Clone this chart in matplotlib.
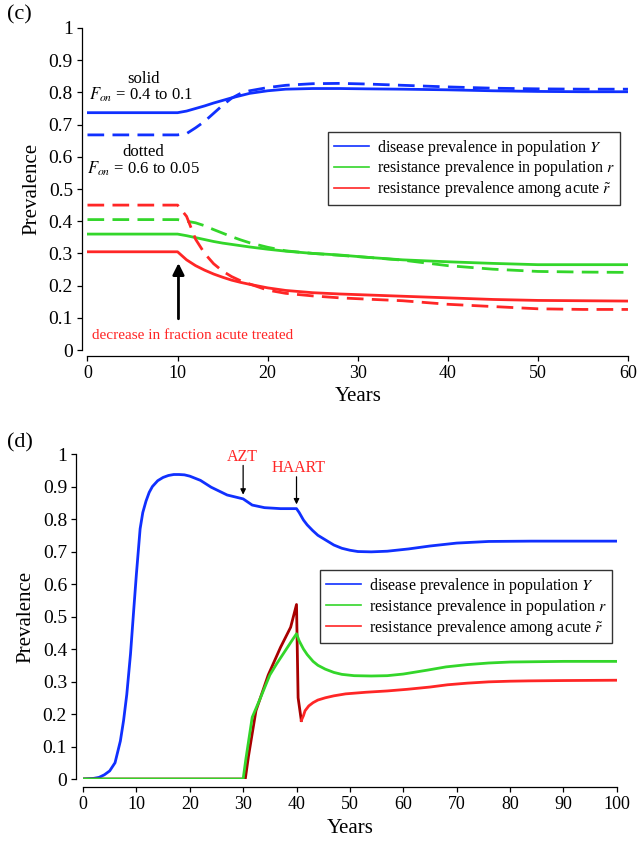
import matplotlib
matplotlib.use('Agg')
import matplotlib.pyplot as plt

plt.rcParams['font.family'] = ['Liberation Serif', 'DejaVu Serif']
plt.rcParams['mathtext.fontset'] = 'stix'
plt.rcParams['lines.scale_dashes'] = False

# panel (c): solid = F_on 0.4 -> 0.1, dashed = F_on 0.6 -> 0.05
c_years = [0, 10, 11, 12, 13, 14, 15, 16, 17, 18, 20, 22, 25, 28, 31, 35, 40, 45, 50, 55, 60]
c_Y_solid = [.737, .737, .742, .75, .758, .767, .775, .783, .79, .797, .805, .81, .812, .812, .811,
             .81, .808, .805, .803, .802, .802]
c_Y_dash = [.668, .668, .672, .69, .71, .735, .76, .782, .797, .805, .815, .822, .827, .828, .826,
            .822, .817, .813, .811, .81, .81]
c_r_solid = [.36, .36, .355, .349, .343, .337, .332, .328, .324, .32, .313, .307, .30, .295, .288,
             .28, .274, .269, .265, .265, .265]
c_r_dash = [.405, .405, .40, .395, .386, .374, .363, .352, .342, .333, .319, .308, .30, .294, .288,
            .279, .262, .251, .244, .242, .241]
c_rt_solid = [.305, .305, .28, .262, .248, .236, .226, .217, .21, .204, .193, .185, .178, .174, .171,
              .167, .162, .157, .154, .153, .152]
c_rt_dash = [.45, .45, .415, .344, .30, .268, .245, .228, .215, .205, .186, .176, .168, .162, .158,
             .153, .142, .135, .128, .126, .126]

# panel (d)
d_years_Y = [0, 2, 3, 4, 5, 6, 7, 7.6, 8.2, 8.9, 9.5, 10, 10.7, 11.2, 11.8, 12.4, 13, 14, 15, 16,
             17, 18, 19, 20, 22, 24, 27, 30, 31.7, 34, 37, 40, 40.5, 41.3, 42, 43, 44, 45.5, 47,
             48.5, 50, 51.5, 54, 57, 61, 65, 70, 76, 84, 100]
d_Y = [0, .002, .005, .013, .025, .05, .117, .18, .26, .385, .52, .63, .77, .82, .855, .882, .9,
       .918, .928, .934, .937, .937, .936, .932, .919, .898, .874, .862, .843, .835, .832, .832,
       .82, .797, .782, .765, .75, .735, .72, .71, .704, .70, .699, .701, .708, .717, .726, .731,
       .732, .732]
d_years_r = [0, 30, 30.5, 31.7, 33, 34, 35, 36.3, 37.5, 38.5, 39.3, 40, 40.5, 41.3, 42, 43.1, 44,
             45.4, 47, 48.5, 50.8, 54, 57, 60, 64.5, 68, 72, 76, 80, 90, 100]
d_r = [0, 0, .06, .19, .24, .28, .32, .355, .385, .41, .43, .447, .425, .40, .383, .362, .35, .338,
       .328, .322, .318, .317, .318, .323, .335, .345, .352, .357, .36, .362, .362]
d_years_rt = [0, 30.4, 31, 32.4, 34.7, 37, 38.9, 40, 40.3, 40.9, 41.3, 41.6, 42.3, 43.1, 44, 45.4,
              47, 49.2, 53, 57, 60.7, 65, 68.3, 72, 76, 80, 83.6, 90, 100]
d_rt = [0, 0, .07, .21, .32, .405, .467, .537, .25, .18, .195, .21, .225, .235, .243, .25, .256,
        .262, .267, .271, .276, .283, .29, .295, .299, .301, .302, .303, .304]
d_rt_split = 9  # index of the minimum after HAART, colour changes there

y_ticks = [0, .1, .2, .3, .4, .5, .6, .7, .8, .9, 1]
y_ticklabels = ['0', '0.1', '0.2', '0.3', '0.4', '0.5', '0.6', '0.7', '0.8', '0.9', '1']
c_xticks = [0, 10, 20, 30, 40, 50, 60]
d_xticks = [0, 10, 20, 30, 40, 50, 60, 70, 80, 90, 100]

labels = ['disease prevalence in population $Y$',
          'resistance prevalence in population $r$',
          'resistance prevalence among acute $\\tilde{r}$']

blue = '#1030ff'
green = '#33d62a'
red = '#ff2626'
darkred = '#a80000'
lw = 2.0
dash = (0, (12, 6))


def style_axes(ax, xmax, xticks, off_left, off_bottom):
    ax.set_xlim(0, xmax)
    ax.set_ylim(0, 1)
    ax.spines['top'].set_visible(False)
    ax.spines['right'].set_visible(False)
    ax.spines['left'].set_position(('outward', off_left))
    ax.spines['bottom'].set_position(('outward', off_bottom))
    for s in ['left', 'bottom']:
        ax.spines[s].set_linewidth(0.9)
    ax.set_xticks(xticks)
    ax.set_yticks(y_ticks)
    ax.set_yticklabels(y_ticklabels)
    ax.tick_params(direction='out', length=3.5, width=0.9, pad=3)
    ax.tick_params(axis='x', labelsize=13)
    ax.tick_params(axis='y', labelsize=14)
    ax.set_xlabel('Years', fontsize=15, labelpad=4)
    ax.set_ylabel('Prevalence', fontsize=15, labelpad=5)
    ax.patch.set_visible(False)


def add_legend(ax, x0, y0):
    leg = ax.legend(loc='upper left', bbox_to_anchor=(x0, y0), bbox_transform=ax.transData,
                    fontsize=11.5, fancybox=False, framealpha=1, edgecolor='#333333',
                    borderpad=0.35, labelspacing=0.05, handlelength=2.2, handletextpad=0.5,
                    borderaxespad=0)
    leg.get_frame().set_linewidth(1.0)
    for h in leg.get_lines():
        h.set_linewidth(1.2)


fig = plt.figure(figsize=(6.4, 8.43), dpi=100)

# ---- (c)
ax_c = fig.add_axes([0.1367, 0.5848, 0.8445, 0.382])
ax_c.plot(c_years, c_Y_solid, color=blue, lw=lw, label=labels[0])
ax_c.plot(c_years, c_Y_dash, color=blue, lw=lw, linestyle=dash)
ax_c.plot(c_years, c_r_solid, color=green, lw=lw, label=labels[1])
ax_c.plot(c_years, c_r_dash, color=green, lw=lw, linestyle=dash)
ax_c.plot(c_years, c_rt_solid, color=red, lw=lw, label=labels[2])
ax_c.plot(c_years, c_rt_dash, color=red, lw=lw, linestyle=dash)
style_axes(ax_c, 60, c_xticks, 4, 4)
add_legend(ax_c, 26.7, 0.677)

ax_c.text(6.2, 0.842, 'solid', ha='center', va='center', fontsize=12)
ax_c.text(6.0, 0.792, '$F_{on}$ = 0.4 to 0.1', ha='center', va='center', fontsize=12)
ax_c.text(6.2, 0.616, 'dotted', ha='center', va='center', fontsize=12)
ax_c.text(6.2, 0.564, '$F_{on}$ = 0.6 to 0.05', ha='center', va='center', fontsize=12)
ax_c.annotate('', xy=(10.1, 0.27), xytext=(10.1, 0.097),
              arrowprops=dict(arrowstyle='-|>', color='black', lw=2, mutation_scale=17,
                              shrinkA=0, shrinkB=0))
ax_c.text(0.5, 0.046, 'decrease in fraction acute treated', color=red, fontsize=11,
          ha='left', va='center')

# ---- (d)
ax_d = fig.add_axes([0.1297, 0.0759, 0.834, 0.3855])
ax_d.plot(d_years_Y, d_Y, color=blue, lw=lw, label=labels[0])
ax_d.plot(d_years_rt[:d_rt_split + 1], d_rt[:d_rt_split + 1], color=darkred, lw=lw)
ax_d.plot(d_years_rt[d_rt_split:], d_rt[d_rt_split:], color=red, lw=lw)
ax_d.plot(d_years_r, d_r, color=green, lw=lw, label=labels[1])
ax_d.plot([], [], color=red, lw=lw, label=labels[2])
style_axes(ax_d, 100, d_xticks, 5, 6)
add_legend(ax_d, 44.4, 0.642)

ax_d.text(29.8, 0.992, 'AZT', color=red, fontsize=11.5, ha='center', va='center')
ax_d.annotate('', xy=(30, 0.875), xytext=(30, 0.965),
              arrowprops=dict(arrowstyle='-|>', color='black', lw=0.9, mutation_scale=8,
                              shrinkA=0, shrinkB=0))
ax_d.text(40.3, 0.956, 'HAART', color=red, fontsize=11.5, ha='center', va='center')
ax_d.annotate('', xy=(40, 0.845), xytext=(40, 0.93),
              arrowprops=dict(arrowstyle='-|>', color='black', lw=0.9, mutation_scale=8,
                              shrinkA=0, shrinkB=0))

fig.text(7 / 640, 1 - 15 / 843, '(c)', fontsize=16, ha='left', va='center')
fig.text(7 / 640, 1 - 443 / 843, '(d)', fontsize=16, ha='left', va='center')

fig.savefig('out.png', dpi=100)
